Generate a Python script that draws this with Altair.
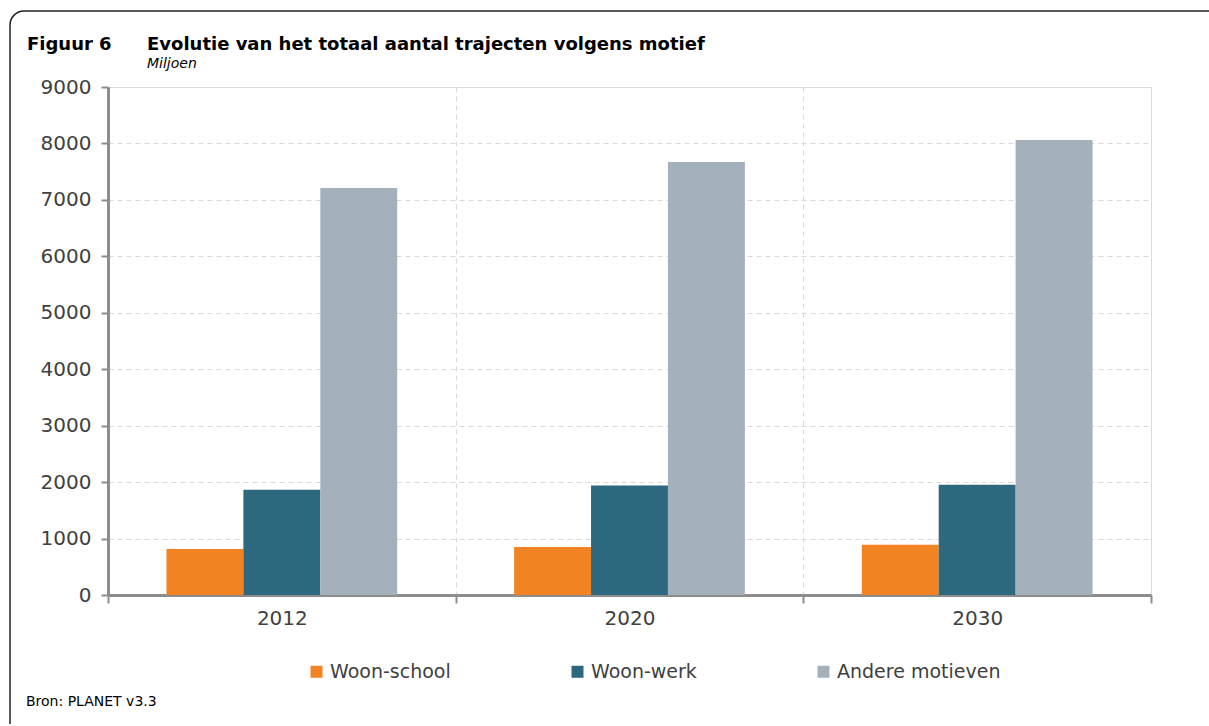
import altair as alt
import pandas as pd

# Jaren en motieven
jaren = ["2012", "2020", "2030"]
motieven = ["Woon-school", "Woon-werk", "Andere motieven"]

# Aantal trajecten (miljoen) per motief en jaar
woon_school = [815, 850, 890]
woon_werk = [1865, 1940, 1955]
andere_motieven = [7210, 7670, 8060]

kleuren = ["#F28323", "#2E687F", "#A5B0BD"]

rows = []
for reeks, waarden in zip(motieven, [woon_school, woon_werk, andere_motieven]):
    for jaar, w in zip(jaren, waarden):
        rows.append({"jaar": jaar, "motief": reeks, "waarde": w})
df = pd.DataFrame(rows)

FONT = "DejaVu Sans"
GRIJS = "#8C8C8C"
TEKST = "#404040"

W, H = 1043, 508

bars = alt.Chart(df).mark_bar().encode(
    x=alt.X(
        "jaar:N",
        sort=jaren,
        title=None,
        scale=alt.Scale(paddingInner=0, paddingOuter=0),
        axis=alt.Axis(
            labelAngle=0, labelFontSize=20, labelColor=TEKST, labelFont=FONT,
            labelPadding=5, tickBand="extent", tickSize=8, tickColor=GRIJS,
            tickWidth=2, domainColor=GRIJS, domainWidth=3,
            grid=True, gridDash=[5, 4], gridColor="#D9D9D9", gridWidth=1,
        ),
    ),
    xOffset=alt.XOffset("motief:N", sort=motieven,
                        scale=alt.Scale(paddingInner=0, paddingOuter=0.76)),
    y=alt.Y(
        "waarde:Q",
        title=None,
        scale=alt.Scale(domain=[0, 9000], nice=False),
        axis=alt.Axis(
            values=list(range(0, 9001, 1000)), format="d", labelFontSize=20,
            labelColor=TEKST, labelFont=FONT, labelPadding=10, tickSize=7,
            tickColor=GRIJS, tickWidth=2, domainColor=GRIJS, domainWidth=3,
            grid=True, gridDash=[5, 4], gridColor="#D9D9D9", gridWidth=1,
        ),
    ),
    color=alt.Color(
        "motief:N",
        sort=motieven,
        scale=alt.Scale(domain=motieven, range=kleuren),
        legend=alt.Legend(
            title=None, orient="none", direction="horizontal",
            legendX=199, legendY=575, symbolType="square", symbolSize=144,
            symbolStrokeWidth=0, labelFontSize=19, labelColor=TEKST,
            labelFont=FONT, labelOffset=4, labelLimit=400, columnPadding=117,
        ),
    ),
)


def tekst(inhoud, x, y, size, weight="normal", style="normal", color="#000000"):
    return alt.Chart(alt.Data(values=[{}])).mark_text(
        text=inhoud, align="left", baseline="alphabetic", font=FONT,
        fontSize=size, fontWeight=weight, fontStyle=style, color=color,
    ).encode(x=alt.value(x), y=alt.value(y))


# Afgeronde kader rond de figuur
kader = alt.Chart(alt.Data(values=[{}])).mark_rect(
    fill=None, stroke="#222222", strokeWidth=1.5, cornerRadius=14,
).encode(x=alt.value(-98), x2=alt.value(1130), y=alt.value(-76), y2=alt.value(680))

chart = alt.layer(
    kader,
    bars,
    tekst("Figuur 6", -81, -37, 18, weight="bold"),
    tekst("Evolutie van het totaal aantal trajecten volgens motief", 39, -37, 18, weight="bold"),
    tekst("Miljoen", 39, -19, 14, style="italic"),
    tekst("Bron: PLANET v3.3", -82, 619, 14),
).properties(
    width=W, height=H,
    autosize=alt.AutoSizeParams(type="none"),
    padding={"left": 108, "top": 87, "right": 58, "bottom": 129},
).configure_view(
    stroke=GRIJS, strokeWidth=3,
).configure(background="white")

chart.save("out.html", embed_options={"renderer": "svg", "actions": False})
